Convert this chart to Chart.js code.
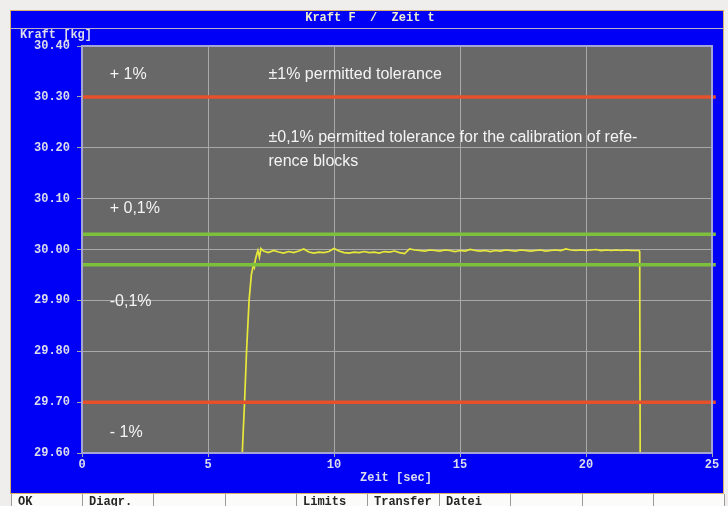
<!DOCTYPE html>
<html lang="de">
<head>
  <meta charset="UTF-8" />
  <title>Kraft F / Zeit t</title>
  <script src="https://cdn.jsdelivr.net/npm/chart.js"></script>
  <style>
    body { margin: 0; background: #efeeec; }
    #wrap { width: 728px; height: 506px; }
  </style>
</head>
<body>
  <div id="wrap"><canvas id="kraftChart" width="728" height="506"></canvas></div>

  <script>
    // measured force curve (time in s, force in kg)
    const times = [6.36, 6.45, 6.53, 6.63, 6.72, 6.80, 6.84, 6.88, 6.93, 6.98, 7.04, 7.10,
      7.2, 7.4, 7.6, 7.8, 8.0, 8.2, 8.4, 8.6, 8.8, 9.0, 9.2, 9.4, 9.6, 9.8,
      10.0, 10.2, 10.4, 10.6, 10.8, 11.0, 11.2, 11.4, 11.6, 11.8, 12.0, 12.2, 12.4, 12.6, 12.8,
      13.0, 13.2, 13.4, 13.6, 13.8, 14.0, 14.2, 14.4, 14.6, 14.8, 15.0, 15.2, 15.4, 15.6, 15.8,
      16.0, 16.2, 16.4, 16.6, 16.8, 17.0, 17.2, 17.4, 17.6, 17.8, 18.0, 18.2, 18.4, 18.6, 18.8,
      19.0, 19.2, 19.4, 19.6, 19.8, 20.0, 20.2, 20.4, 20.6, 20.8, 21.0, 21.2, 21.4, 21.6, 21.8,
      22.0, 22.10, 22.13, 22.15];
    const force = [29.60, 29.70, 29.80, 29.90, 29.95, 29.97, 29.965, 29.98, 29.99, 29.998, 29.985, 30.002,
      29.997, 29.994, 29.998, 29.995, 29.993, 29.996, 29.994, 29.997, 30.001, 29.995, 29.993, 29.995, 29.994, 29.996,
      30.002, 29.997, 29.994, 29.993, 29.995, 29.994, 29.996, 29.994, 29.995, 29.993, 29.996, 29.995, 29.997, 29.994, 29.992,
      30.001, 29.999, 29.998, 29.997, 29.999, 29.998, 29.997, 29.999, 29.998, 29.996, 29.998, 29.997, 30.000, 29.998, 29.997,
      29.998, 29.996, 29.998, 29.997, 29.999, 29.998, 29.997, 29.999, 29.998, 29.997, 29.998, 29.999, 29.997, 29.998, 29.999,
      29.998, 30.001, 29.999, 29.998, 29.999, 29.998, 29.999, 30.000, 29.998, 29.999, 29.998, 29.999, 29.998, 29.999, 29.998,
      29.998, 29.998, 29.996, 29.60];

    // tolerance limits
    const limits1 = [30.30, 29.70];    // +-1 %
    const limits01 = [30.03, 29.97];   // +-0.1 %

    const xTicks = [0, 5, 10, 15, 20, 25];
    const yTicks = [29.60, 29.70, 29.80, 29.90, 30.00, 30.10, 30.20, 30.30, 30.40];

    const buttons = ['OK', 'Diagr.', '', '', 'Limits', 'Transfer', 'Datei', '', '', ''];

    const MONO = 'bold 12px "Liberation Mono", "DejaVu Sans Mono", monospace';
    const SANS = '16px "Liberation Sans", Arial, sans-serif';

    const hline = (v, color) => ({
      data: [{ x: 0, y: v }, { x: 25.15, y: v }],
      borderColor: color, borderWidth: 3.5, pointRadius: 0, clip: false
    });

    const frame = {
      id: 'frame',
      beforeDraw(chart) {
        const { ctx, chartArea: a } = chart;
        ctx.save();
        // blue window
        ctx.fillStyle = '#0000f6';
        ctx.fillRect(11, 11, 712, 482);
        ctx.strokeStyle = '#d8ae6a';
        ctx.lineWidth = 1;
        ctx.strokeRect(10.5, 10.5, 713, 483);
        ctx.strokeStyle = '#b8b0c8';
        ctx.beginPath(); ctx.moveTo(11, 28.5); ctx.lineTo(723, 28.5); ctx.stroke();
        ctx.font = MONO;
        ctx.fillStyle = '#ecebd0';
        ctx.textAlign = 'center'; ctx.textBaseline = 'middle';
        ctx.fillText('Kraft F  /  Zeit t', 370, 18);
        ctx.fillStyle = '#dcdcec';
        ctx.textAlign = 'left';
        ctx.fillText('Kraft [kg]', 20, 35);
        ctx.textAlign = 'center';
        ctx.fillText('Zeit [sec]', 396, 478);
        // plot background
        ctx.fillStyle = '#686868';
        ctx.fillRect(a.left, a.top, a.right - a.left, a.bottom - a.top);
        // button row
        ctx.fillStyle = '#fbfbfa';
        ctx.fillRect(11, 494, 714, 12);
        const edges = [11, 82, 153, 225, 296, 367, 439, 510, 582, 653, 724];
        ctx.strokeStyle = '#9a9a9a';
        edges.forEach(x => { ctx.beginPath(); ctx.moveTo(x + 0.5, 494); ctx.lineTo(x + 0.5, 506); ctx.stroke(); });
        ctx.fillStyle = '#262626';
        ctx.textAlign = 'left';
        buttons.forEach((b, i) => ctx.fillText(b, edges[i] + 7, 502));
        ctx.restore();
      },
      afterDraw(chart) {
        const { ctx, chartArea: a, scales } = chart;
        ctx.save();
        ctx.strokeStyle = '#a4a4d4';
        ctx.lineWidth = 2;
        ctx.strokeRect(a.left, a.top, a.right - a.left, a.bottom - a.top);
        ctx.font = SANS;
        ctx.fillStyle = '#f4f4f4';
        ctx.textBaseline = 'middle';
        ctx.textAlign = 'left';
        const X = v => scales.x.getPixelForValue(v);
        const Y = v => scales.y.getPixelForValue(v);
        ctx.fillText('+ 1%', X(1.1), Y(30.343));
        ctx.fillText('\u00b11% permitted tolerance', X(7.4), Y(30.343));
        ctx.fillText('\u00b10,1% permitted tolerance for the calibration of refe-', X(7.4), Y(30.22));
        ctx.fillText('rence blocks', X(7.4), Y(30.173));
        ctx.fillText('+ 0,1%', X(1.1), Y(30.08));
        ctx.fillText('-0,1%', X(1.1), Y(29.898));
        ctx.fillText('- 1%', X(1.1), Y(29.64));
        ctx.restore();
      }
    };

    new Chart(document.getElementById('kraftChart'), {
      type: 'line',
      data: {
        datasets: [
          hline(limits1[0], '#e6512b'),
          hline(limits1[1], '#e6512b'),
          hline(limits01[0], '#7cc03c'),
          hline(limits01[1], '#7cc03c'),
          {
            data: times.map((t, i) => ({ x: t, y: force[i] })),
            borderColor: '#e8e83a', borderWidth: 1.7, pointRadius: 0, tension: 0
          }
        ]
      },
      options: {
        responsive: false,
        animation: false,
        devicePixelRatio: 1,
        layout: { padding: { left: 0, right: 16, top: 46, bottom: 0 } },
        plugins: { legend: { display: false }, tooltip: { enabled: false }, title: { display: false } },
        scales: {
          x: {
            type: 'linear', min: 0, max: 25,
            afterBuildTicks: s => { s.ticks = xTicks.map(v => ({ value: v })); },
            afterFit: s => { s.height = 53; },
            grid: { color: '#a9a9a9', lineWidth: 1, tickLength: 4 },
            border: { display: false },
            ticks: { color: '#dcdcec', font: { family: '"Liberation Mono", monospace', size: 12, weight: 'bold' }, padding: 1, maxRotation: 0 }
          },
          y: {
            min: 29.6, max: 30.4,
            afterBuildTicks: s => { s.ticks = yTicks.map(v => ({ value: v })); },
            afterFit: s => { s.width = 82; },
            grid: { color: '#a9a9a9', lineWidth: 1, tickLength: 5 },
            border: { display: false },
            ticks: {
              color: '#dcdcec', font: { family: '"Liberation Mono", monospace', size: 12, weight: 'bold' }, padding: 7,
              callback: v => v.toFixed(2)
            }
          }
        }
      },
      plugins: [frame]
    });
  </script>
</body>
</html>
